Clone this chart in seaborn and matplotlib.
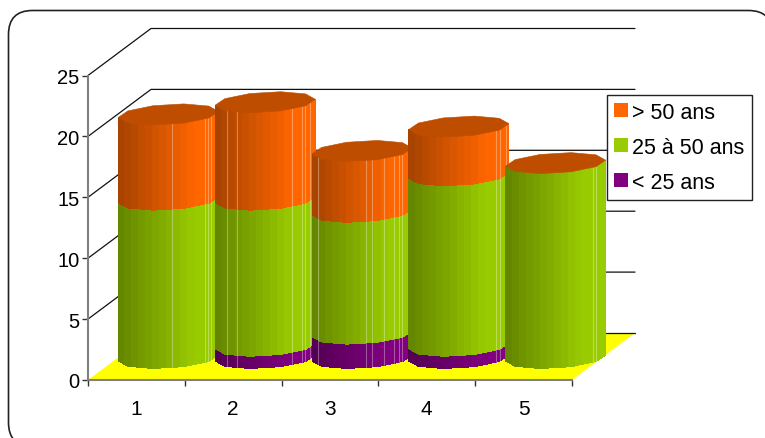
import numpy as np
import pandas as pd
import matplotlib
matplotlib.use("Agg")
import matplotlib.pyplot as plt
from matplotlib.patches import FancyBboxPatch, Patch, Polygon
import seaborn as sns

# Staff counts per group, by age bracket
groups = ["1", "2", "3", "4", "5"]
under_25 = [0, 1, 2, 1, 0]
from_25_to_50 = [13, 12, 10, 14, 16]
over_50 = [7, 8, 5, 4, 0]
series_labels = ["< 25 ans", "25 à 50 ans", "> 50 ans"]
value_ticks = [0, 5, 10, 15, 20, 25]

W, H = 765, 439
sns.set_style("white")
plt.rcParams["font.family"] = ["Liberation Sans", "DejaVu Sans"]
palette = sns.color_palette(["#800080", "#99CC00", "#FF6600"])
CAP_SHADE = 0.75

# Oblique projection: depth runs toward the upper right of the front plane
PX_X = 96.8
PX_Y = 12.18
DEPTH_X = 63 / PX_X
DEPTH_Y = 47 / PX_Y
DISC_K = 0.2234              # disc radius as a share of the floor depth
HALF_WIDTH = 50 / PX_X
DISC_B = DISC_K * DEPTH_X
DISC_C = DISC_K * DEPTH_Y
DISC_A = np.sqrt(HALF_WIDTH ** 2 - DISC_B ** 2)
SIDES = 10
PHI = np.arctan2(DISC_B, DISC_A)
STRIP = 7 / PX_X

# Pale facet seams on each cylinder, as offsets from its axis
seams_px = [
    [4, 37, 40, 43],
    [-38, -28, 27, 37, 40, 45],
    [-44, 4, 9.5, 22, 31.5, 36.5, 40],
    [37, 41, 47],
    [37, 40],
]

fig = plt.figure(figsize=(W / 100, H / 100), dpi=100, facecolor="white")

# Rounded chart frame, partly running off the canvas
bg = fig.add_axes([0, 0, 1, 1], zorder=0)
bg.set_xlim(0, W)
bg.set_ylim(H, 0)
bg.axis("off")
bg.add_patch(FancyBboxPatch((8.5, 11.5), 764, 436,
                            boxstyle="round,pad=0,rounding_size=24",
                            fc="white", ec="#222222", lw=1.2))

ax = fig.add_axes([88 / W, (H - 381) / H, 484 / W, 304.5 / H], zorder=1)
ax.patch.set_alpha(0)
ax.set_xlim(0, 5)
ax.set_ylim(0, 25)

# Floor
ax.add_patch(Polygon([(0, 0), (5, 0), (5 + DEPTH_X, DEPTH_Y), (DEPTH_X, DEPTH_Y)],
                     closed=True, fc="#FFFF00", ec="none", zorder=1, clip_on=False))

# Gridlines on the side wall and the back wall
rows = []
for v in value_ticks:
    if v > 0:
        rows.append(dict(level=v, order=0, x=0.0, y=v))
    rows.append(dict(level=v, order=1, x=DEPTH_X, y=v + DEPTH_Y))
    rows.append(dict(level=v, order=2, x=5 + DEPTH_X, y=v + DEPTH_Y))
grid = pd.DataFrame(rows)
sns.lineplot(data=grid, x="x", y="y", units="level", estimator=None, sort=False,
             color="#111111", linewidth=0.9, ax=ax, legend=False, zorder=2)
for line in ax.get_lines():
    line.set_clip_on(False)
ax.set_xlabel("")
ax.set_ylabel("")


def shaded(color, share):
    """Darken toward the left of a cylinder; the right quarter keeps full colour."""
    factor = 0.66 + 0.34 * min(1.0, share / 0.75)
    return tuple(c * factor for c in color)


# Front half of the faceted disc outline, left silhouette to right silhouette
angles = PHI + np.pi + 2 * np.pi * np.arange(SIDES // 2 + 1) / SIDES
front_x = DISC_A * np.cos(angles) + DISC_B * np.sin(angles)
front_y = DISC_C * np.sin(angles)
fine_x = np.linspace(front_x[0], front_x[-1], 201)
fine_y = np.interp(fine_x, front_x, front_y)
ring = PHI + 2 * np.pi * np.arange(SIDES) / SIDES
ring_x = DISC_A * np.cos(ring) + DISC_B * np.sin(ring)
ring_y = DISC_C * np.sin(ring)

z = 3.0
for i, group in enumerate(groups):
    cx = i + 0.5 + DEPTH_X / 2 + 0.5 / PX_X
    cy = DEPTH_Y / 2 - 1.5 / PX_Y
    lows = np.cumsum([0, under_25[i], from_25_to_50[i]])
    highs = lows + np.array([under_25[i], from_25_to_50[i], over_50[i]])
    for low, high, color in zip(lows, highs, palette):
        if high <= low:
            continue
        edges = np.arange(fine_x[0], fine_x[-1] + STRIP, STRIP)
        for left, right in zip(edges[:-1], edges[1:]):
            keep = (fine_x >= left - 0.006) & (fine_x <= right + 0.006)
            xs = fine_x[keep]
            ys = fine_y[keep]
            if xs.size < 2:
                continue
            tint = shaded(color, (left + HALF_WIDTH) / (2 * HALF_WIDTH))
            ax.fill(np.r_[xs, xs[::-1]] + cx,
                    np.r_[ys + cy + low, ys[::-1] + cy + high],
                    fc=tint, ec="none", lw=0, antialiased=False,
                    zorder=z, clip_on=False)
    # Facet seams over the full height of the cylinder
    top = highs.max()
    for off in seams_px[i]:
        u = off / PX_X
        y0 = np.interp(u, fine_x, fine_y)
        ax.plot([cx + u, cx + u], [y0 + cy + lows[0], y0 + cy + top],
                color="white", alpha=0.33, lw=0.8, zorder=z + 0.1, clip_on=False)
    # Top disc, always in the colour of the uppermost series
    cap = tuple(c * CAP_SHADE for c in palette[2])
    ax.fill(ring_x + cx, ring_y + cy + top, fc=cap, ec=cap, lw=0.4,
            zorder=z + 0.2, clip_on=False)
    z += 1

# Axes
sns.despine(ax=ax)
for side in ("left", "bottom"):
    ax.spines[side].set_color("#808080")
    ax.spines[side].set_linewidth(1.5)
    ax.spines[side].set_zorder(20)
ax.set_yticks(value_ticks)
ax.set_xticks(np.arange(len(groups)) + 0.5)
ax.set_xticklabels(groups)
ax.set_xticks(np.arange(len(groups) + 1), minor=True)
ax.tick_params(axis="y", which="major", left=True, length=4, width=1, color="#333333",
               labelsize=14.5, pad=2, labelcolor="black")
ax.tick_params(axis="x", which="major", bottom=False, length=0, labelsize=15, pad=14,
               labelcolor="black")
ax.tick_params(axis="x", which="minor", bottom=True, length=4, width=1, color="#333333")

# Legend, listed from the oldest bracket down
handles = [Patch(fc=palette[k], ec="none", label=series_labels[k]) for k in (2, 1, 0)]
leg = ax.legend(handles=handles, loc="upper left", fontsize=15.5,
                bbox_to_anchor=(607 / W, (H - 96) / H), bbox_transform=fig.transFigure,
                frameon=True, fancybox=False, framealpha=1, edgecolor="#222222",
                borderaxespad=0, borderpad=0.32, labelspacing=0.65,
                handlelength=0.64, handleheight=0.64, handletextpad=0.22, labelcolor="black")
leg.get_frame().set_linewidth(1.0)
leg.set_zorder(50)

fig.savefig("out.png", dpi=100)
